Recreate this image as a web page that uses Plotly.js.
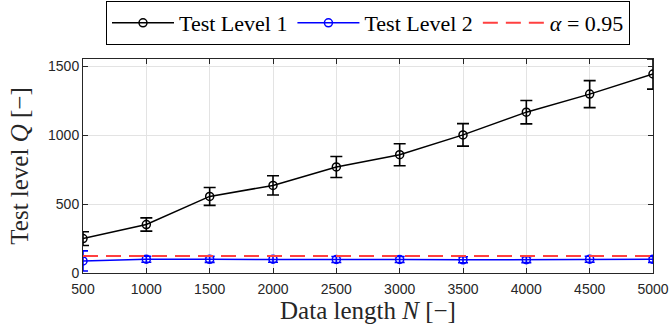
<!DOCTYPE html>
<html>
<head>
<meta charset="utf-8">
<script src="https://cdn.plot.ly/plotly-3.0.1.min.js"></script>
<style>html,body{margin:0;padding:0;background:#fff;}#chart{width:670px;height:331px;}</style>
</head>
<body>
<div id="chart"></div>
<script>
const N = [500, 1000, 1500, 2000, 2500, 3000, 3500, 4000, 4500, 5000];
const level1 = [250, 352, 556, 636, 770, 859, 1003, 1168, 1299, 1445];
const level1Err = [50, 48, 65, 70, 76, 80, 82, 85, 98, 110];
const level2 = [88, 100, 99, 100, 98, 98, 96, 97, 100, 99];
const level2Err = [73, 22, 22, 22, 22, 22, 22, 22, 22, 22];
const alphaLevel = 124.34;
const xTicks = [500, 1000, 1500, 2000, 2500, 3000, 3500, 4000, 4500, 5000];
const yTicks = [0, 500, 1000, 1500];

const traces = [
  {
    x: N, y: level1, type: 'scatter', mode: 'lines+markers', name: 'Test Level 1',
    line: {color: '#000000', width: 1.5},
    marker: {symbol: 'circle-open', size: 8, color: '#000000', line: {width: 1.5}},
    error_y: {type: 'data', array: level1Err, visible: true, color: '#000000', thickness: 1.6, width: 6}
  },
  {
    x: N, y: level2, type: 'scatter', mode: 'lines+markers', name: 'Test Level 2',
    line: {color: '#0000ff', width: 1.5},
    marker: {symbol: 'circle-open', size: 8, color: '#0000ff', line: {width: 1.5}},
    error_y: {type: 'data', array: level2Err, visible: true, color: '#0000ff', thickness: 1.6, width: 5}
  },
  {
    x: [N[0], N[N.length - 1]], y: [alphaLevel, alphaLevel], type: 'scatter', mode: 'lines',
    name: '<i>α</i> = 0.95',
    line: {color: '#ff4040', width: 2, dash: '15px,8px'}
  }
];

const layout = {
  width: 670, height: 331,
  margin: {l: 83, r: 17, t: 59, b: 58},
  paper_bgcolor: '#ffffff', plot_bgcolor: '#ffffff',
  showlegend: true,
  legend: {
    orientation: 'h', xref: 'paper', x: 0.5, xanchor: 'center',
    yref: 'container', y: 0.997, yanchor: 'top',
    bordercolor: '#000000', borderwidth: 1, bgcolor: '#ffffff',
    font: {family: 'Liberation Serif, serif', size: 22, color: '#000000'},
    itemwidth: 62, tracegroupgap: 0
  },
  xaxis: {
    range: [500, 5000], tickvals: xTicks, ticktext: xTicks.map(String),
    ticks: 'inside', ticklen: 5, tickcolor: '#262626', tickwidth: 1,
    showline: true, linecolor: '#262626', linewidth: 1, mirror: 'ticks',
    showgrid: true, gridcolor: '#e3e3e3', gridwidth: 1, zeroline: false,
    ticklabelstandoff: 3,
    tickfont: {family: 'Liberation Sans, Arial, sans-serif', size: 14, color: '#262626'},
    title: {text: 'Data length <i>N</i> [−]', font: {family: 'Liberation Serif, serif', size: 25, color: '#262626'}, standoff: 4}
  },
  yaxis: {
    range: [0, 1554], tickvals: yTicks, ticktext: yTicks.map(String),
    ticks: 'inside', ticklen: 5, tickcolor: '#262626', tickwidth: 1,
    showline: true, linecolor: '#262626', linewidth: 1, mirror: 'ticks',
    showgrid: true, gridcolor: '#e3e3e3', gridwidth: 1, zeroline: false,
    tickfont: {family: 'Liberation Sans, Arial, sans-serif', size: 14, color: '#262626'},
    title: {text: 'Test level <i>Q</i> [−]', font: {family: 'Liberation Serif, serif', size: 25, color: '#262626'}, standoff: 12}
  }
};

Plotly.newPlot('chart', traces, layout, {displayModeBar: false, staticPlot: true});
</script>
</body>
</html>
